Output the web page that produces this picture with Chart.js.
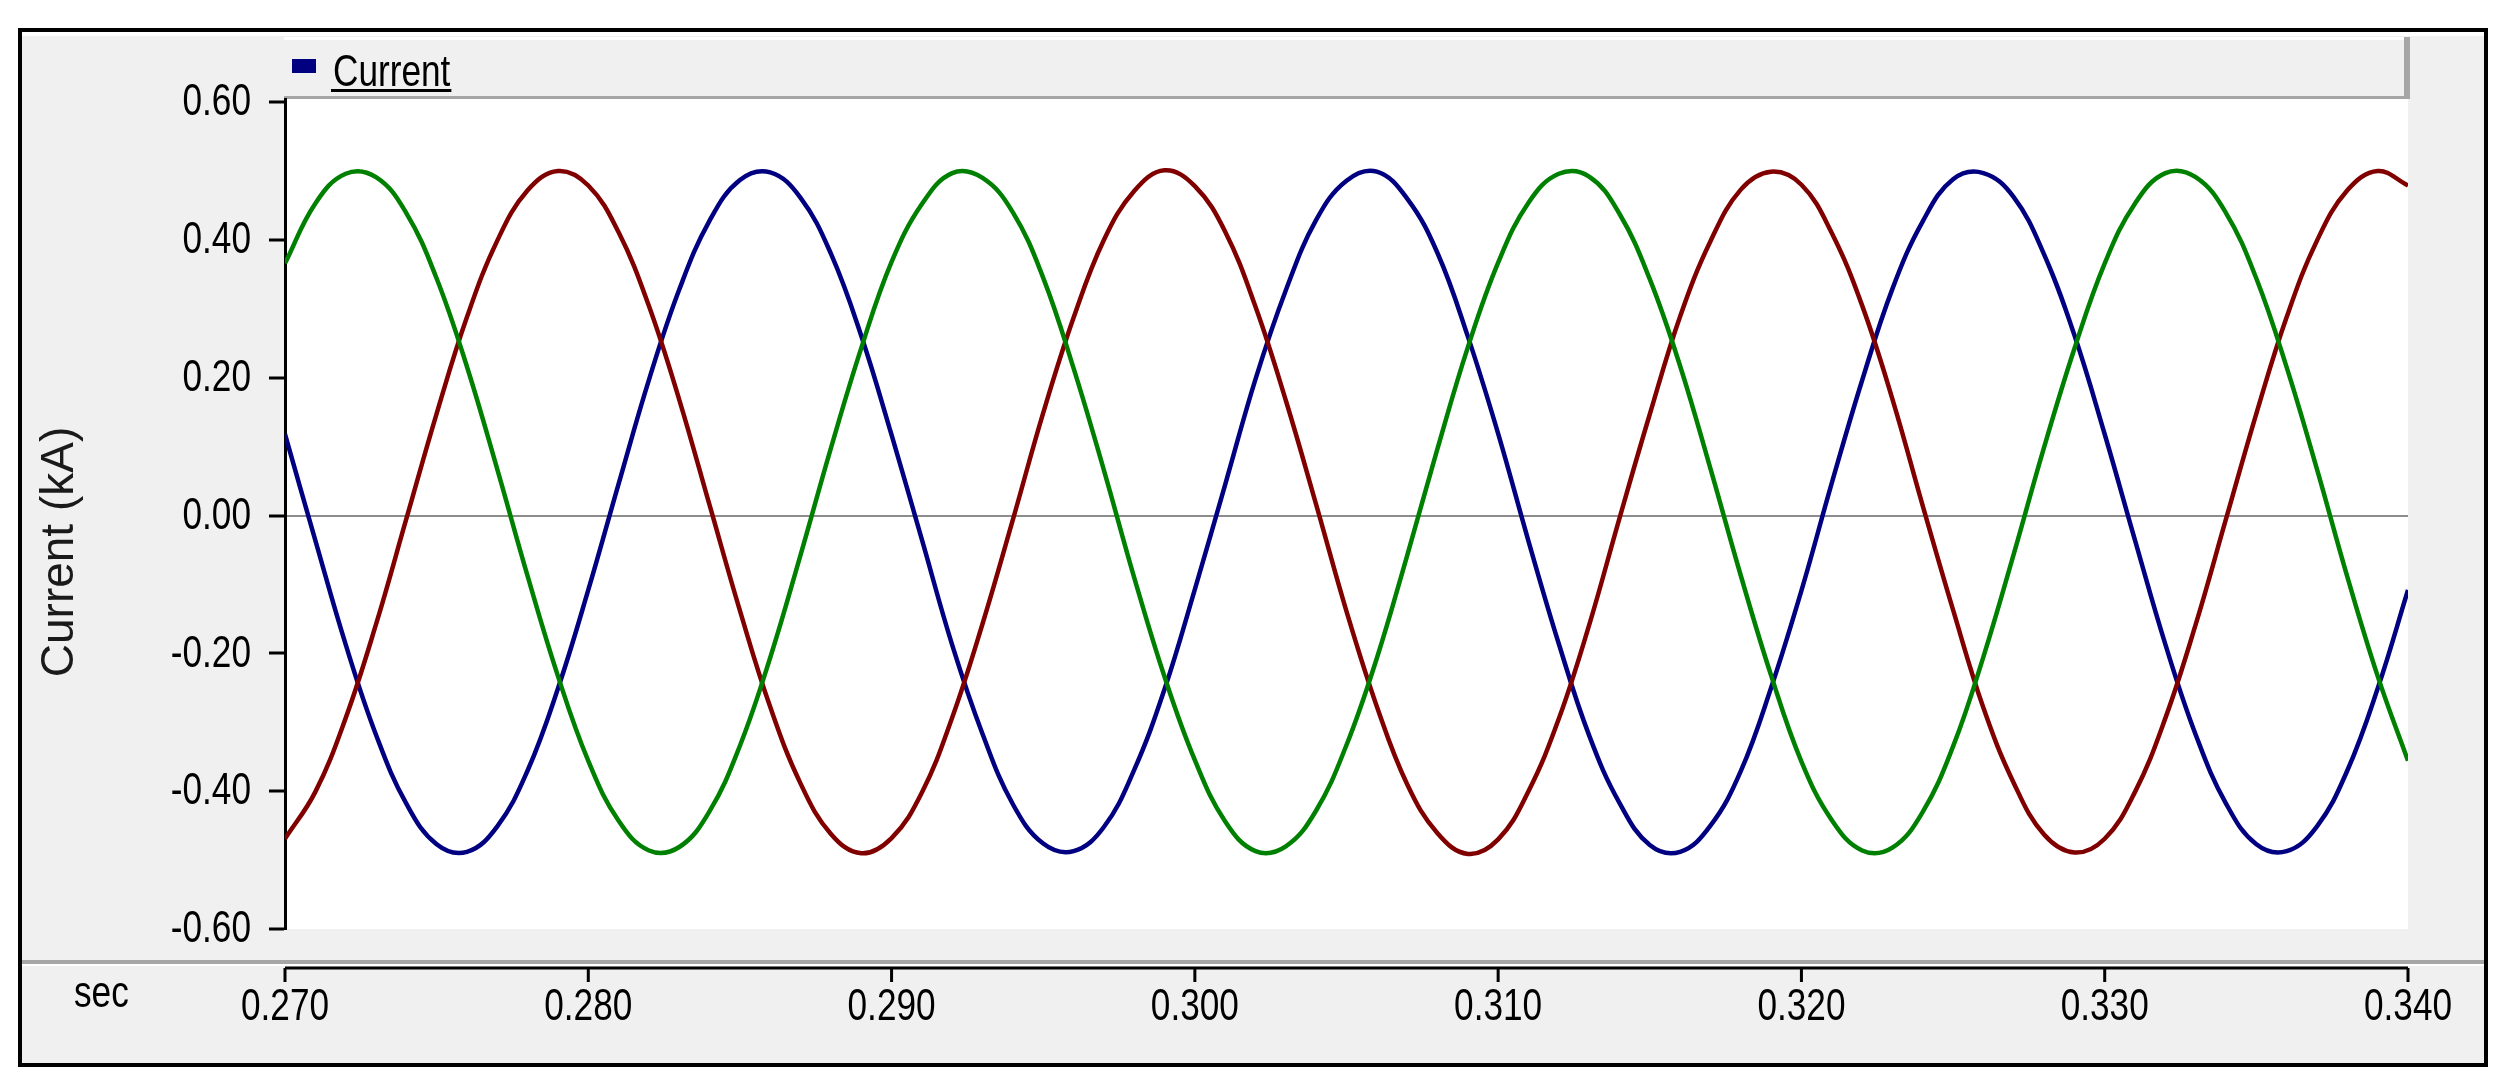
<!DOCTYPE html>
<html>
<head>
<meta charset="utf-8">
<script src="https://cdn.jsdelivr.net/npm/chart.js@4.4.1/dist/chart.umd.min.js"></script>
<style>
  html, body { margin: 0; padding: 0; background: #ffffff; }
  #wrap { width: 2499px; height: 1087px; }
</style>
</head>
<body>
<div id="wrap"><canvas id="waveChart" width="2499" height="1087"></canvas></div>
<script>
// sample times (s)
const times = [
  0.270, 0.271, 0.272, 0.273, 0.274, 0.275, 0.276, 0.277, 0.278, 0.279,
  0.280, 0.281, 0.282, 0.283, 0.284, 0.285, 0.286, 0.287, 0.288, 0.289,
  0.290, 0.291, 0.292, 0.293, 0.294, 0.295, 0.296, 0.297, 0.298, 0.299,
  0.300, 0.301, 0.302, 0.303, 0.304, 0.305, 0.306, 0.307, 0.308, 0.309,
  0.310, 0.311, 0.312, 0.313, 0.314, 0.315, 0.316, 0.317, 0.318, 0.319,
  0.320, 0.321, 0.322, 0.323, 0.324, 0.325, 0.326, 0.327, 0.328, 0.329,
  0.330, 0.331, 0.332, 0.333, 0.334, 0.335, 0.336, 0.337, 0.338, 0.339,
  0.340,
];

// phase currents (kA)
const greenPhase = [
  0.366, 0.453, 0.496, 0.491, 0.439, 0.344, 0.216, 0.067, -0.088, -0.233,
  -0.356, -0.443, -0.486, -0.481, -0.429, -0.334, -0.206, -0.057, 0.098, 0.243,
  0.368, 0.452, 0.497, 0.490, 0.440, 0.345, 0.214, 0.066, -0.090, -0.234,
  -0.355, -0.444, -0.487, -0.480, -0.428, -0.333, -0.207, -0.058, 0.097, 0.244,
  0.367, 0.454, 0.496, 0.492, 0.438, 0.343, 0.217, 0.068, -0.087, -0.232,
  -0.357, -0.442, -0.486, -0.482, -0.430, -0.335, -0.205, -0.056, 0.099, 0.242,
  0.366, 0.453, 0.497, 0.491, 0.439, 0.344, 0.215, 0.067, -0.089, -0.233,
  -0.356,
];

const redPhase = [
  -0.469, -0.401, -0.294, -0.158, -0.005, 0.148, 0.288, 0.399, 0.472, 0.500,
  0.479, 0.411, 0.304, 0.168, 0.015, -0.138, -0.278, -0.389, -0.462, -0.490,
  -0.468, -0.402, -0.293, -0.157, -0.006, 0.149, 0.287, 0.400, 0.471, 0.501,
  0.478, 0.412, 0.303, 0.167, 0.016, -0.139, -0.277, -0.390, -0.461, -0.491,
  -0.470, -0.400, -0.295, -0.159, -0.004, 0.147, 0.289, 0.398, 0.473, 0.499,
  0.480, 0.410, 0.305, 0.169, 0.014, -0.137, -0.279, -0.388, -0.463, -0.489,
  -0.469, -0.401, -0.294, -0.158, -0.005, 0.148, 0.288, 0.399, 0.472, 0.500,
  0.479,
];

const bluePhase = [
  0.118, -0.036, -0.187, -0.318, -0.418, -0.477, -0.488, -0.451, -0.370, -0.251,
  -0.108, 0.046, 0.197, 0.328, 0.428, 0.487, 0.498, 0.461, 0.380, 0.261,
  0.117, -0.035, -0.188, -0.317, -0.419, -0.476, -0.487, -0.452, -0.369, -0.252,
  -0.107, 0.045, 0.198, 0.327, 0.429, 0.486, 0.499, 0.460, 0.381, 0.260,
  0.119, -0.037, -0.186, -0.319, -0.417, -0.478, -0.488, -0.450, -0.371, -0.250,
  -0.109, 0.047, 0.196, 0.329, 0.427, 0.488, 0.497, 0.462, 0.379, 0.262,
  0.118, -0.036, -0.187, -0.318, -0.418, -0.477, -0.487, -0.451, -0.370, -0.251,
  -0.108,
];

const xTicks = [0.27, 0.28, 0.29, 0.3, 0.31, 0.32, 0.33, 0.34];
const yTicks = [-0.6, -0.4, -0.2, 0, 0.2, 0.4, 0.6];

const legendLabel = "Current";
const yTitle = "Current (kA)";
const xUnit = "sec";

const plainFont = "'Liberation Sans', Arial, sans-serif";

function toPoints(values) {
  return values.map((v, i) => ({ x: times[i], y: v }));
}

// narrow text: Liberation Sans squeezed horizontally
function narrowText(ctx, text, x, y, align, baseline) {
  ctx.save();
  ctx.translate(x, y);
  ctx.scale(0.8, 1);
  ctx.font = "44px " + plainFont;
  ctx.fillStyle = "#000000";
  ctx.textAlign = align;
  ctx.textBaseline = baseline;
  ctx.fillText(text, 0, 0);
  const w = ctx.measureText(text).width * 0.8;
  ctx.restore();
  return w;
}

const panelPlugin = {
  id: "panel",
  beforeDraw(chart) {
    const ctx = chart.ctx;
    const a = chart.chartArea;
    ctx.save();
    ctx.fillStyle = "#ffffff";
    ctx.fillRect(0, 0, chart.width, chart.height);

    // grey window body
    ctx.fillStyle = "#f0f0f0";
    ctx.fillRect(22, 36, 2462, 1027);

    // legend strip
    ctx.fillStyle = "#a6a6a6";
    ctx.fillRect(a.left - 1, 37, a.right - a.left + 3, a.top - 37);
    ctx.fillStyle = "#ffffff";
    ctx.fillRect(a.left - 1, 37, a.right - a.left - 3, 3);
    ctx.fillStyle = "#f0f0f0";
    ctx.fillRect(a.left - 1, 40, a.right - a.left - 3, a.top - 43);

    // plot area
    ctx.fillStyle = "#ffffff";
    ctx.fillRect(a.left, a.top, a.right - a.left, a.bottom - a.top);

    // separator between plot and time axis
    ctx.fillStyle = "#a6a6a6";
    ctx.fillRect(22, 960, 2462, 4);
    ctx.fillStyle = "#ffffff";
    ctx.fillRect(22, 964, 2462, 2);

    // outer frame
    ctx.strokeStyle = "#000000";
    ctx.lineWidth = 4;
    ctx.strokeRect(20, 30, 2466, 1035);
    ctx.restore();
  },
  afterDraw(chart) {
    const ctx = chart.ctx;
    const a = chart.chartArea;
    const xs = chart.scales.x;
    const ys = chart.scales.y;
    ctx.save();

    // y tick labels
    yTicks.forEach((v) => {
      narrowText(ctx, v.toFixed(2), 251, ys.getPixelForValue(v) + 1, "right", "middle");
    });

    // time axis line with ticks and labels
    const axisY = 968;
    ctx.strokeStyle = "#000000";
    ctx.lineWidth = 3;
    ctx.beginPath();
    ctx.moveTo(xs.getPixelForValue(xTicks[0]), axisY);
    ctx.lineTo(xs.getPixelForValue(xTicks[xTicks.length - 1]), axisY);
    xTicks.forEach((t) => {
      const px = xs.getPixelForValue(t);
      ctx.moveTo(px, axisY);
      ctx.lineTo(px, axisY + 14);
    });
    ctx.stroke();
    xTicks.forEach((t) => {
      narrowText(ctx, t.toFixed(3), xs.getPixelForValue(t), 1008, "center", "middle");
    });

    // unit label
    narrowText(ctx, xUnit, 74, 995, "left", "middle");

    // y axis title
    ctx.save();
    ctx.translate(60, 552);
    ctx.rotate(-Math.PI / 2);
    ctx.font = "46px " + plainFont;
    ctx.textAlign = "center";
    ctx.textBaseline = "middle";
    ctx.fillStyle = "#1a1a1a";
    ctx.fillText(yTitle, 0, 0);
    ctx.restore();

    // legend entry
    const ds = chart.data.datasets[2];
    ctx.fillStyle = ds.borderColor;
    ctx.fillRect(a.left + 7, 59, 24, 14);
    const w = narrowText(ctx, legendLabel, a.left + 48, 86, "left", "alphabetic");
    ctx.fillStyle = "#000000";
    ctx.fillRect(a.left + 46, 89, w + 3, 3);

    ctx.restore();
  },
};

const waveChart = new Chart(document.getElementById("waveChart"), {
  type: "line",
  data: {
    datasets: [
      {
        label: "Current",
        data: toPoints(greenPhase),
        borderColor: "#008000",
        borderWidth: 4.5,
        pointRadius: 0,
        tension: 0.4,
      },
      {
        label: "Current",
        data: toPoints(redPhase),
        borderColor: "#800000",
        borderWidth: 4.5,
        pointRadius: 0,
        tension: 0.4,
      },
      {
        label: "Current",
        data: toPoints(bluePhase),
        borderColor: "#000080",
        borderWidth: 4.5,
        pointRadius: 0,
        tension: 0.4,
      },
    ],
  },
  options: {
    responsive: false,
    animation: false,
    devicePixelRatio: 1,
    layout: {
      padding: { top: 99, right: 91, left: 0, bottom: 0 },
    },
    plugins: {
      legend: { display: false },
      tooltip: { enabled: false },
    },
    scales: {
      x: {
        type: "linear",
        min: 0.27,
        max: 0.34,
        afterFit: (scale) => {
          scale.height = 158;
        },
        afterBuildTicks: (scale) => {
          scale.ticks = xTicks.map((v) => ({ value: v }));
        },
        border: { display: false },
        grid: { display: false },
        ticks: { display: false },
      },
      y: {
        min: -0.6,
        max: 0.6045,
        afterFit: (scale) => {
          scale.width = 285;
        },
        afterBuildTicks: (scale) => {
          scale.ticks = yTicks.map((v) => ({ value: v }));
        },
        border: { display: true, color: "#000000", width: 3 },
        grid: {
          drawOnChartArea: true,
          color: (c) => (c.tick && c.tick.value === 0 ? "#8c8c8c" : "rgba(0,0,0,0)"),
          lineWidth: 2,
          tickColor: "#000000",
          tickWidth: 3,
          tickLength: 16,
        },
        ticks: { display: false },
      },
    },
  },
  plugins: [panelPlugin],
});
</script>
</body>
</html>
